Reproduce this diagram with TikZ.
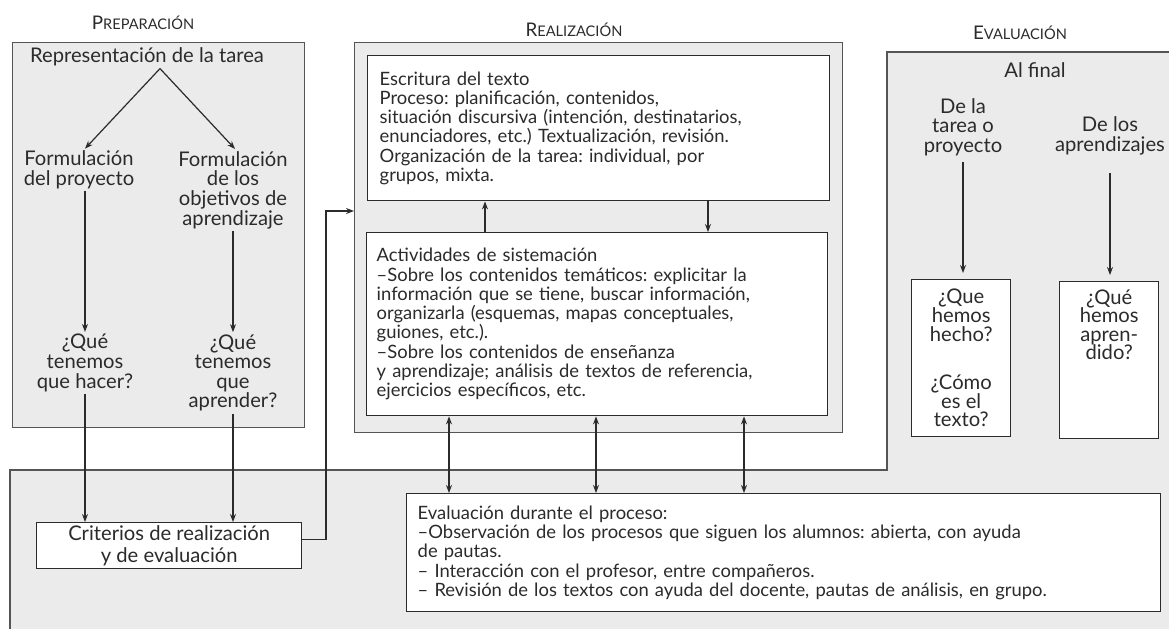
\documentclass[tikz,border=0pt]{standalone}
\usepackage{fontspec}
\setmainfont{Lato}
\usetikzlibrary{arrows.meta}
\frenchspacing

\definecolor{panelgray}{HTML}{EBEBEB}
\definecolor{inkgray}{HTML}{2B2B2B}

\newcommand{\sctitle}[2]{{\fontsize{9.4}{10}\selectfont #1}{\fontsize{7.3}{10}\selectfont #2}}

\begin{document}
\begin{tikzpicture}[x=0.5pt, y=-0.5pt,
		every node/.style={font=\fontsize{9.2}{9.65}\selectfont, text=inkgray},
		lbl/.style={align=center, inner sep=1pt, font=\fontsize{10.1}{9.8}\selectfont},
		panel/.style={draw=inkgray!80, fill=panelgray, line width=0.7pt, anchor=north west, inner sep=0pt},
		wbox/.style={draw=inkgray, fill=white, line width=0.7pt, anchor=north west, inner sep=0pt},
		para/.style={wbox, align=left},
		arr/.style={draw=inkgray, line width=0.6pt, -{Stealth[length=4pt, width=3pt]}},
		biarr/.style={arr, {Stealth[length=4pt, width=3pt]}-{Stealth[length=4pt, width=3pt]}}]
	\useasboundingbox (0,0) rectangle (1169,628);
	\clip (0,0) rectangle (1169,628);
	\filldraw[draw=inkgray!80, fill=panelgray, line width=0.7pt] (10,660) -- (10,470) -- (887,470) -- (887,52) -- (1200,52) -- (1200,660) -- cycle;

	\node (preptitle) at (143,23) {\sctitle{P}{REPARACIÓN}};
	\node (realtitle) at (574,30) {\sctitle{R}{EALIZACIÓN}};
	\node (evaltitle) at (1020,33) {\sctitle{E}{VALUACIÓN}};

	\node[panel, minimum width=146pt, minimum height=192.5pt] (prepbox) at (12,42) {};
	\node[panel, minimum width=244pt, minimum height=195pt] (realbox) at (354,42) {};

	\node[lbl] (rep) at (147,57) {Representación de la tarea};
	\node[lbl] (fproy) at (79,170) {Formulación\\del proyecto};
	\node[lbl] (fobj) at (233,190) {Formulación\\de los\\objetivos de\\aprendizaje};
	\node[lbl] (qhacer) at (85,363) {¿Qué\\tenemos\\que hacer?};
	\node[lbl] (qapr) at (233,373) {¿Qué\\tenemos\\que\\aprender?};

	\node[para, text width=219pt, inner xsep=6pt, minimum height=72.5pt] (esc) at (367,55) {Escritura del texto\\
		Proceso: planificación, contenidos,\\
		situación discursiva (intención, destinatarios,\\
		enunciadores, etc.) Textualización, revisión.\\
		Organización de la tarea: individual, por\\
		grupos, mixta.};
	\node[para, text width=220.5pt, inner xsep=5pt, minimum height=91.5pt] (act) at (366,232) {Actividades de sistemación\\
		–Sobre los contenidos temáticos: explicitar la\\
		información que se tiene, buscar información,\\
		organizarla (esquemas, mapas conceptuales,\\
		guiones, etc.).\\
		–Sobre los contenidos de enseñanza\\
		y aprendizaje; análisis de textos de referencia,\\
		ejercicios específicos, etc.};
	\node[para, text width=366pt, inner xsep=5.5pt, minimum height=59pt] (evd) at (406,493) {Evaluación durante el proceso:\\
		–Observación de los procesos que siguen los alumnos: abierta, con ayuda\\
		de pautas.\\
		– Interacción con el profesor, entre compañeros.\\
		– Revisión de los textos con ayuda del docente, pautas de análisis, en grupo.};
	\node[wbox, align=center, font=\fontsize{10.1}{11}\selectfont, minimum width=132.5pt, minimum height=23pt] (crit) at (36,522) {Criterios de realización\\y de evaluación};

	\node[lbl] (alfinal) at (1035,70) {Al final};
	\node[lbl] (defl) at (963,127) {De la\\tarea o\\proyecto};
	\node[lbl] (deap) at (1110,136) {De los\\aprendizajes};
	\node[wbox, align=center, font=\fontsize{10.1}{9.3}\selectfont, minimum width=49.5pt, minimum height=78.5pt] (qh) at (911,279) {¿Que\\hemos\\hecho?\\[15pt]¿Cómo\\es el\\texto?};
	\node[wbox, minimum width=49.5pt, minimum height=78.5pt] (qa) at (1059,281) {};
	\node[lbl, font=\fontsize{10.1}{9.3}\selectfont, anchor=north] (qatxt) at ([yshift=-3pt]qa.north) {¿Qué\\hemos\\apren-\\dido?};

	\draw[arr] ([xshift=6.5pt]rep.south) -- ([xshift=3pt]fproy.north);
	\draw[arr] ([xshift=6.5pt]rep.south) -- ([xshift=1pt]fobj.north);
	\draw[arr] (qhacer.north |- fproy.south) -- (qhacer.north);
	\draw[arr] (fobj.south) -- (qapr.north);
	\draw[arr] (qhacer.south) -- (qhacer.south |- crit.north);
	\draw[arr] (qapr.south) -- (qapr.south |- crit.north);

	\coordinate (bend) at (326,211);
	\draw[arr] ([yshift=3pt]crit.east) -| (bend) -- (bend -| realbox.west);
	\draw[arr] (act.north -| 485,0) -- (esc.south -| 485,0);
	\draw[arr] (esc.south -| 708,0) -- (act.north -| 708,0);
	\foreach \x in {449,596,744}
		\draw[biarr] (act.south -| \x,0) -- (evd.north -| \x,0);

	\draw[arr, shorten <=2pt, shorten >=3pt] (defl.south) -- (defl.south |- qh.north);
	\draw[arr, shorten <=8pt, shorten >=3pt] (deap.south) -- (deap.south |- qa.north);
\end{tikzpicture}
\end{document}
